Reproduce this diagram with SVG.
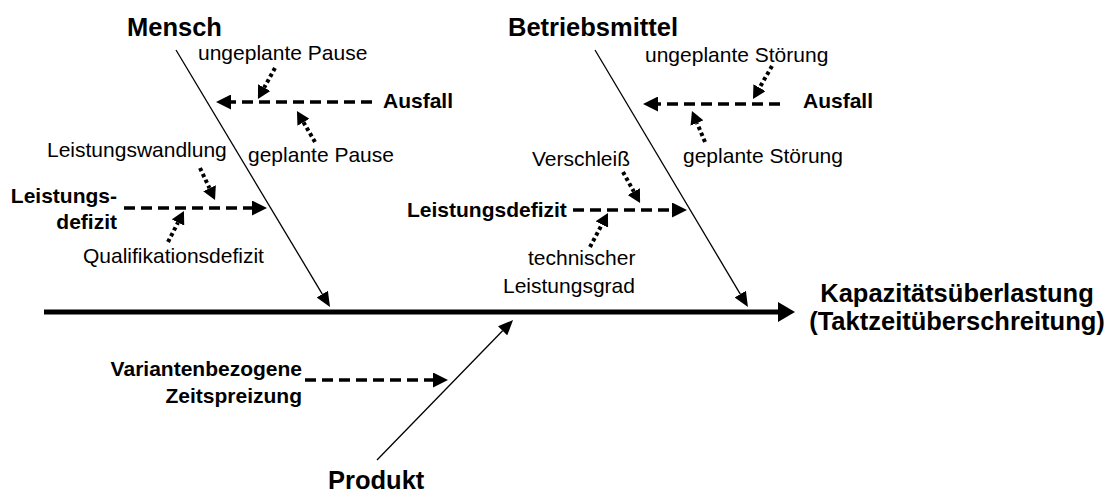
<svg xmlns="http://www.w3.org/2000/svg" width="1110" height="492" viewBox="0 0 1110 492">
<style>
text{font-family:"Liberation Sans",Arial,Helvetica,sans-serif;fill:#000}
.h{font-size:25.5px;font-weight:bold}
.b{font-size:21px;font-weight:bold}
.r{font-size:21px}
.bone{stroke:#000;stroke-width:1.3;fill:none}
.spine{stroke:#000;stroke-width:5;fill:none}
.dash{stroke:#000;stroke-width:3.5;fill:none;stroke-dasharray:11 6}
.dot{stroke:#000;stroke-width:4;fill:none;stroke-dasharray:3.5 3}
</style>
<defs>
<marker id="aThin" markerUnits="userSpaceOnUse" markerWidth="15" markerHeight="13" refX="0" refY="6.5" orient="auto"><path d="M0,0 L15,6.5 L0,13 z" fill="#000"/></marker>
<marker id="aSpine" markerUnits="userSpaceOnUse" markerWidth="17" markerHeight="20" refX="0" refY="10" orient="auto"><path d="M0,0 L17,10 L0,20 z" fill="#000"/></marker>
<marker id="aDash" markerUnits="userSpaceOnUse" markerWidth="15" markerHeight="15" refX="0" refY="7.5" orient="auto"><path d="M0,0 L15,7.5 L0,15 z" fill="#000"/></marker>
<marker id="aDot" markerUnits="userSpaceOnUse" markerWidth="13" markerHeight="14" refX="0" refY="7" orient="auto"><path d="M0,0 L13,7 L0,14 z" fill="#000"/></marker>
</defs>
<g id="connectors">
<path class="spine" d="M44,312 H778" marker-end="url(#aSpine)"/>
<path class="bone" d="M176,50 L322.3,294.1" marker-end="url(#aThin)"/>
<path class="bone" d="M595,50 L740.3,294.1" marker-end="url(#aThin)"/>
<path class="bone" d="M377,460 L502.6,330.8" marker-end="url(#aThin)"/>
<path class="dash" d="M372,102 H231" marker-end="url(#aDash)"/>
<path class="dash" d="M780,104 H658" marker-end="url(#aDash)"/>
<path class="dash" d="M124,208 H252" marker-end="url(#aDash)"/>
<path class="dash" d="M573,210 H672" marker-end="url(#aDash)"/>
<path class="dash" d="M305,380 H433" marker-end="url(#aDash)"/>
<path class="dot" d="M275,68 L264.2,87.6" marker-end="url(#aDot)"/>
<path class="dot" d="M315,142 L303.5,122.3" marker-end="url(#aDot)"/>
<path class="dot" d="M200,168 L209.5,188.2" marker-end="url(#aDot)"/>
<path class="dot" d="M168,242 L178,222.5" marker-end="url(#aDot)"/>
<path class="dot" d="M772,66 L759.5,87.7" marker-end="url(#aDot)"/>
<path class="dot" d="M705,142 L697,123" marker-end="url(#aDot)"/>
<path class="dot" d="M623,172 L633.8,191.6" marker-end="url(#aDot)"/>
<path class="dot" d="M590,247 L601.9,224.5" marker-end="url(#aDot)"/>
</g>
<g id="mensch"><text class="h" x="127" y="36">Mensch</text></g>
<g id="betriebsmittel"><text class="h" x="508" y="36">Betriebsmittel</text></g>
<g id="produkt"><text class="h" x="328" y="489">Produkt</text></g>
<g id="effect"><text class="h" x="957" y="302" text-anchor="middle">Kapazitätsüberlastung</text><text class="h" x="957" y="330" text-anchor="middle">(Taktzeitüberschreitung)</text></g>
<g id="m-ausfall"><text class="b" x="383" y="108">Ausfall</text></g>
<g id="m-ungeplant"><text class="r" x="198" y="60">ungeplante Pause</text></g>
<g id="m-geplant"><text class="r" x="248" y="162">geplante Pause</text></g>
<g id="m-leistungsdefizit"><text class="b" x="117" y="203" text-anchor="end">Leistungs-</text><text class="b" x="117" y="229" text-anchor="end">defizit</text></g>
<g id="m-wandlung"><text class="r" x="47" y="157">Leistungswandlung</text></g>
<g id="m-qualifikation"><text class="r" x="83" y="263">Qualifikationsdefizit</text></g>
<g id="b-ausfall"><text class="b" x="803" y="108">Ausfall</text></g>
<g id="b-ungeplant"><text class="r" x="645" y="62">ungeplante Störung</text></g>
<g id="b-geplant"><text class="r" x="683" y="163">geplante Störung</text></g>
<g id="b-leistungsdefizit"><text class="b" x="407" y="217">Leistungsdefizit</text></g>
<g id="b-verschleiss"><text class="r" x="532" y="166">Verschleiß</text></g>
<g id="b-technisch"><text class="r" x="528" y="265">technischer</text><text class="r" x="503" y="293">Leistungsgrad</text></g>
<g id="p-varianten"><text class="b" x="302" y="376" text-anchor="end">Variantenbezogene</text><text class="b" x="302" y="403" text-anchor="end">Zeitspreizung</text></g>
</svg>
